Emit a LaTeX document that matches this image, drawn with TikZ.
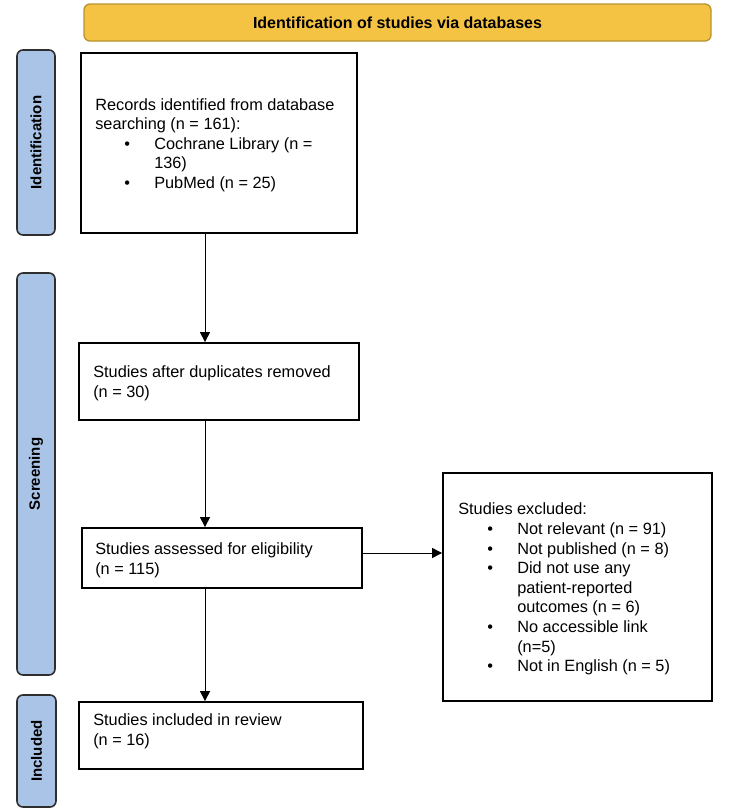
\documentclass[tikz,border=0pt]{standalone}
\usepackage{fontspec}
\setmainfont{Liberation Sans}
\usetikzlibrary{arrows.meta}
\definecolor{bannerfill}{HTML}{F5C344}
\definecolor{bannerdraw}{HTML}{B8922E}
\definecolor{sidefill}{HTML}{A9C4E7}
\definecolor{sidedraw}{HTML}{2E2E2E}
\newcommand{\bitem}[1]{\hspace*{29pt}\makebox[30pt][l]{\textbullet}#1}
\newcommand{\bcont}[1]{\hspace*{59pt}#1}
\begin{document}
\begin{tikzpicture}[x=1pt,y=-1pt,
  banner/.style={draw=bannerdraw, fill=bannerfill, line width=1.3pt, rounded corners=6pt,
    inner sep=0pt, font=\bfseries\fontsize{16}{19}\selectfont},
  side/.style={draw=sidedraw, fill=sidefill, line width=1.6pt, rounded corners=6pt, inner sep=0pt},
  sidelabel/.style={rotate=90, inner sep=0pt, font=\bfseries\fontsize{15}{18}\selectfont},
  flowbox/.style={draw=black, line width=1.8pt, inner sep=0pt},
  txt/.style={inner sep=0pt, align=left, anchor=west, font=\fontsize{16.3}{19.6}\selectfont},
  arr/.style={draw=black, line width=1pt, -{Triangle[width=10pt,length=10pt]}}
]
\useasboundingbox (0,0) rectangle (740,812);
\fill[white] (0,0) rectangle (740,812);

% banner
\node[banner, minimum width=627pt, minimum height=37pt] (ban) at (397.5,22.5) {Identification of studies via databases};

% side bars
\node[side, minimum width=38pt, minimum height=185pt] (sid) at (36,142.5) {};
\node[sidelabel] (sidl) at (sid.center) {Identification};
\node[side, minimum width=38pt, minimum height=402pt] (sscr) at (36,474) {};
\node[sidelabel] (sscrl) at (sscr.center) {Screening};
\node[side, minimum width=39pt, minimum height=112pt] (sinc) at (36.5,751) {};
\node[sidelabel] (sincl) at (sinc.center) {Included};

% flow boxes
\node[flowbox, minimum width=276pt, minimum height=180pt] (b1) at (219,143) {};
\node[txt] (t1) at ([xshift=15pt,yshift=-2pt]b1.west) {Records identified from database\\searching (n = 161):\\\bitem{Cochrane Library (n =}\\\bcont{136)}\\\bitem{PubMed (n = 25)}};

\node[flowbox, minimum width=280pt, minimum height=77pt] (b2) at (219,381.5) {};
\node[txt] (t2) at ([xshift=15pt,yshift=-2pt]b2.west) {Studies after duplicates removed\\(n = 30)};

\node[flowbox, minimum width=280pt, minimum height=60pt] (b3) at (222,558) {};
\node[txt] (t3) at ([xshift=14pt,yshift=-2pt]b3.west) {Studies assessed for eligibility\\(n = 115)};

\node[flowbox, minimum width=284pt, minimum height=67pt] (b4) at (221,735.5) {};
\node[txt] (t4) at ([xshift=15pt,yshift=4pt]b4.west) {Studies included in review\\(n = 16)};

\node[flowbox, minimum width=269pt, minimum height=228pt] (ex) at (577.5,587) {};
\node[txt] (tx) at ([xshift=16pt,yshift=-2pt]ex.west) {Studies excluded:\\\bitem{Not relevant (n = 91)}\\\bitem{Not published (n = 8)}\\\bitem{Did not use any}\\\bcont{patient-reported}\\\bcont{outcomes (n = 6)}\\\bitem{No accessible link}\\\bcont{(n=5)}\\\bitem{Not in English (n = 5)}};

% connectors
\coordinate (ax) at (205,0);
\coordinate (hy) at (0,553);
\draw[arr] (b1.south -| ax) -- (b2.north -| ax);
\draw[arr] (b2.south -| ax) -- (b3.north -| ax);
\draw[arr] (b3.south -| ax) -- (b4.north -| ax);
\draw[arr] (b3.east |- hy) -- (ex.west |- hy);
\end{tikzpicture}
\end{document}
